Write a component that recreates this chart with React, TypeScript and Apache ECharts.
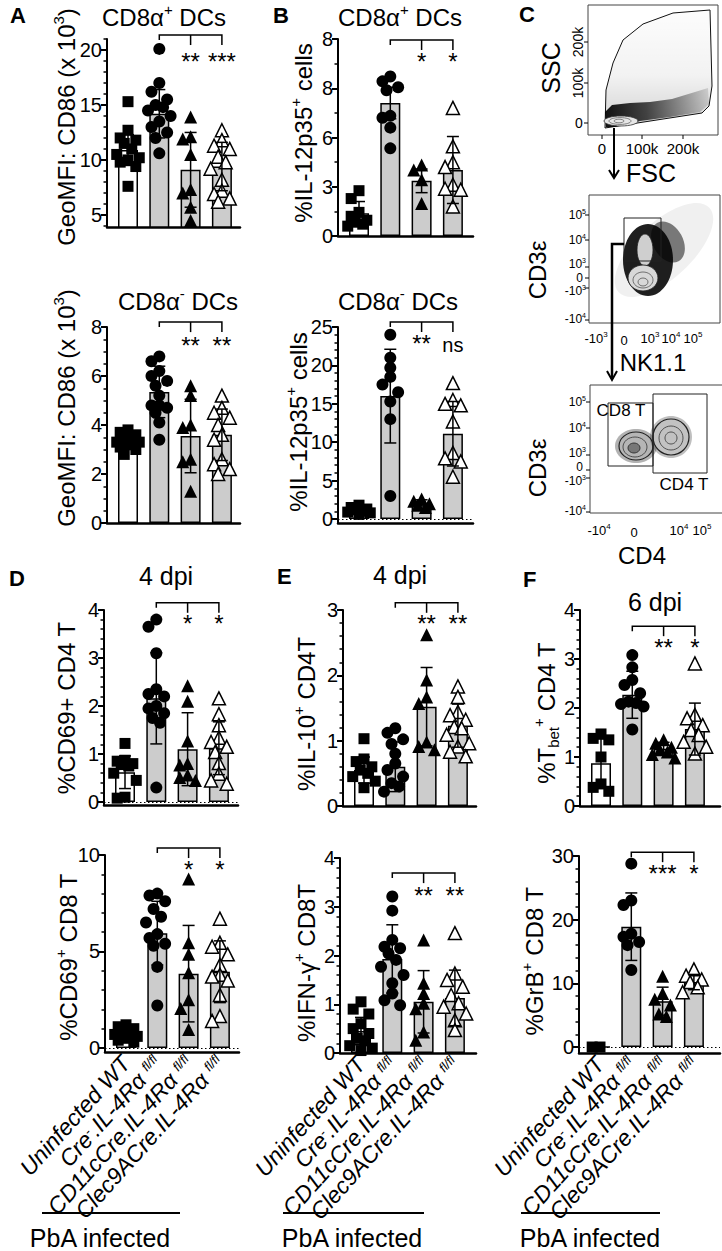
import React, { useEffect, useRef } from 'react';
import * as echarts from 'echarts';

const FONT = '"Liberation Sans", Arial, Helvetica, sans-serif';

// ---------- categories ----------
const groups = ['Uninfected WT', 'Cre-.IL-4Rα fl/fl', 'CD11cCre.IL-4Rα fl/fl', 'Clec9ACre.IL-4Rα fl/fl'];
const groupLabelsRich = [
  '{i|Uninfected WT}',
  '{i|Cre}{s|-}{i|.IL-4Rα }{s|fl/fl}',
  '{i|CD11cCre.IL-4Rα }{s|fl/fl}',
  '{i|Clec9ACre.IL-4Rα }{s|fl/fl}',
];

// ---------- A: GeoMFI CD86, CD8a+ DCs ----------
const aTopPoints = [
  [15.3, 12.7, 12.0, 11.8, 11.5, 11.0, 10.5, 10.2, 10.0, 9.8, 9.4, 7.6],
  [20.1, 17.0, 16.2, 15.5, 15.0, 14.8, 14.5, 14.0, 13.5, 13.0, 12.5, 12.0, 10.6],
  [13.9, 12.1, 11.9, 10.5, 7.3, 7.0, 5.7, 4.5],
  [12.7, 11.8, 11.3, 11.0, 10.3, 9.8, 9.2, 8.2, 7.2, 6.9, 6.5, 6.2],
];
const aTopMeans = [10.9, 14.2, 9.1, 9.4];
const aTopSD = [1.4, 2.2, 3.4, 2.2];
const aTopTicks = [5, 10, 15, 20];

// ---------- A: GeoMFI CD86, CD8a- DCs ----------
const aBotPoints = [
  [3.8, 3.7, 3.6, 3.5, 3.4, 3.3, 3.3, 3.2, 3.1, 3.0, 2.8],
  [6.8, 6.6, 6.2, 6.0, 5.8, 5.6, 5.2, 4.8, 4.8, 4.7, 4.5, 4.1, 3.4],
  [5.6, 5.2, 4.0, 3.9, 2.6, 2.5, 1.3],
  [5.2, 4.7, 4.5, 4.3, 4.0, 3.6, 3.4, 2.6, 2.4, 2.2, 2.0],
];
const aBotMeans = [3.3, 5.35, 3.55, 3.6];
const aBotSD = [0.3, 1.05, 1.5, 1.05];
const aBotTicks = [0, 2, 4, 6, 8];

// ---------- B: %IL-12p35+, CD8a+ DCs ----------
const bTopPoints = [
  [2.3, 1.9, 1.2, 1.0, 0.8, 0.7, 0.6, 0.5],
  [8.1, 7.85, 7.55, 7.4, 6.1, 6.0, 5.5, 4.45],
  [3.6, 3.35, 2.85, 1.65],
  [6.5, 4.55, 3.75, 3.5, 2.6, 2.4, 2.35, 1.5],
];
const bTopMeans = [1.15, 6.75, 2.8, 3.35];
const bTopSD = [0.6, 0.8, 0.6, 1.7];
const bTopTicks = [0, 2.5, 5, 7.5, 10];
const bTopTickLabels = ['0', '3', '6', '8', '8'];

// ---------- B: %IL-12p35+, CD8a- DCs ----------
const bBotPoints = [
  [1.8, 1.5, 1.3, 1.2, 1.0, 0.9, 0.8, 0.6],
  [24, 21, 19.7, 18.5, 17.5, 16.5, 15.3, 13, 3],
  [2.6, 2.3, 2.0, 1.8, 1.5],
  [17.7, 15.5, 15.0, 14.8, 12.7, 8.6, 7.9, 7.5, 5.5],
];
const bBotMeans = [1.1, 16.0, 2.1, 11.1];
const bBotSD = [0.4, 6.1, 0.4, 4.2];
const bBotTicks = [0, 5, 10, 15, 20, 25];

// ---------- D: %CD69+ CD4 T ----------
const dTopPoints = [
  [1.22, 0.87, 0.85, 0.8, 0.78, 0.75, 0.6, 0.45, 0.1, 0.08],
  [3.8, 3.65, 3.1, 2.35, 2.25, 2.2, 2.0, 1.95, 1.85, 1.75, 1.65, 0.3],
  [2.42, 2.1, 1.27, 0.8, 0.77, 0.56, 0.51, 0.45],
  [2.16, 1.83, 1.6, 1.34, 1.25, 1.15, 1.04, 0.81, 0.59, 0.45, 0.38],
];
const dTopMeans = [0.62, 2.16, 1.1, 1.12];
const dTopSD = [0.34, 0.95, 0.76, 0.55];
const dTopTicks = [0, 1, 2, 3, 4];

// ---------- D: %CD69+ CD8 T ----------
const dBotPoints = [
  [1.2, 1.1, 1.0, 0.9, 0.8, 0.7, 0.6, 0.5, 0.4, 0.3],
  [8.0, 7.9, 7.6, 7.2, 6.8, 6.5, 5.9, 5.7, 5.4, 5.3, 4.2, 2.2],
  [8.75, 5.45, 4.85, 3.9, 2.5, 2.05, 0.95],
  [6.7, 5.45, 5.25, 4.85, 4.3, 3.8, 3.7, 3.5, 2.75, 1.65, 1.4],
];
const dBotMeans = [0.65, 5.95, 3.85, 3.95];
const dBotSD = [0.3, 1.65, 2.5, 1.6];
const dBotTicks = [0, 5, 10];

// ---------- E: %IL-10+ CD4T ----------
const eTopPoints = [
  [1.03, 0.72, 0.68, 0.6, 0.55, 0.5, 0.45, 0.38, 0.28],
  [1.19, 1.12, 1.02, 0.95, 0.8, 0.65, 0.55, 0.45, 0.35, 0.3, 0.22],
  [2.62, 1.93, 1.67, 1.57, 0.98, 0.91, 0.86],
  [1.83, 1.67, 1.44, 1.39, 1.32, 1.21, 1.19, 1.09, 0.96, 0.91, 0.83, 0.76],
];
const eTopMeans = [0.55, 0.6, 1.52, 1.23];
const eTopSD = [0.2, 0.38, 0.6, 0.33];
const eTopTicks = [0, 1, 2, 3];

// ---------- E: %IFN-g+ CD8T ----------
const eBotPoints = [
  [1.05, 0.9, 0.8, 0.6, 0.5, 0.4, 0.3, 0.25, 0.15, 0.1, 0.05],
  [3.21, 2.92, 2.32, 2.18, 2.15, 2.04, 1.91, 1.77, 1.6, 1.43, 1.22, 1.08, 0.98],
  [2.32, 1.43, 1.22, 1.02, 0.91, 0.43, 0.26],
  [2.46, 1.63, 1.5, 1.36, 1.19, 1.02, 0.95, 0.81, 0.67, 0.47],
];
const eBotMeans = [0.45, 1.93, 1.05, 1.13];
const eBotSD = [0.28, 0.7, 0.64, 0.57];
const eBotTicks = [0, 1, 2, 3, 4];

// ---------- F: %Tbet+ CD4 T ----------
const fTopPoints = [
  [1.47, 1.38, 1.35, 1.0, 0.45, 0.38, 0.3],
  [3.08, 2.83, 2.57, 2.47, 2.3, 2.13, 2.1, 2.08, 2.03, 1.56],
  [1.35, 1.28, 1.2, 1.15, 1.1, 1.05, 0.98],
  [2.91, 1.86, 1.79, 1.65, 1.55, 1.45, 1.31, 1.21, 1.07],
];
const fTopMeans = [0.87, 2.27, 1.17, 1.57];
const fTopSD = [0.5, 0.48, 0.13, 0.53];
const fTopTicks = [0, 1, 2, 3, 4];

// ---------- F: %GrB+ CD8 T ----------
const fBotPoints = [
  [0, 0],
  [28.8, 23.0, 22.3, 17.8, 17.3, 16.5, 16.0, 12.1],
  [11.1, 8.4, 7.5, 6.6, 5.2, 4.8],
  [12.2, 11.2, 10.6, 10.2, 9.4, 8.6],
];
const fBotMeans = [0, 18.9, 7.2, 10.2];
const fBotSD = [0, 5.3, 2.2, 1.2];
const fBotTicks = [0, 10, 20, 30];

// ---------- layout of panels ----------
const panels: any[] = [
  { left: 107, top: 39, bottom: 227, width: 133, min: 3.9, max: 21, ticks: aTopTicks, minorStep: 1, points: aTopPoints, means: aTopMeans, sds: aTopSD, bracket: 21.36, stars: ['**', '***'], starGap: 14 },
  { left: 107, top: 327, bottom: 523, width: 133, min: 0, max: 8, ticks: aBotTicks, minorStep: 0.5, points: aBotPoints, means: aBotMeans, sds: aBotSD, bracket: 8.2, stars: ['**', '**'], starGap: 11 },
  { left: 338, top: 39, bottom: 236, width: 135, min: 0, max: 10, ticks: bTopTicks, tickLabels: bTopTickLabels, minorStep: 1.25, points: bTopPoints, means: bTopMeans, sds: bTopSD, bracket: 9.95, stars: ['*', '*'], starGap: 10 },
  { left: 338, top: 327, bottom: 523, width: 135, min: -0.52, max: 25, ticks: bBotTicks, minorStep: 1, points: bBotPoints, means: bBotMeans, sds: bBotSD, bracket: 25.65, stars: ['**', 'ns'], starGap: 9, zeroLine: true },
  { left: 104, top: 610, bottom: 805, width: 134, min: -0.0625, max: 4, ticks: dTopTicks, minorStep: 0.2, points: dTopPoints, means: dTopMeans, sds: dTopSD, bracket: 4.15, stars: ['*', '*'], starGap: 9, zeroLine: true },
  { left: 105, top: 855, bottom: 1052, width: 134, min: -0.21, max: 10, ticks: dBotTicks, minorStep: 1, points: dBotPoints, means: dBotMeans, sds: dBotSD, bracket: 10.36, stars: ['*', '*'], starGap: 9, zeroLine: true, xLabels: true },
  { left: 343, top: 610, bottom: 806, width: 133, min: 0, max: 3, ticks: eTopTicks, minorStep: 0.2, points: eTopPoints, means: eTopMeans, sds: eTopSD, bracket: 3.11, stars: ['**', '**'], starGap: 9 },
  { left: 340, top: 858, bottom: 1053, width: 136, min: 0, max: 4, ticks: eBotTicks, minorStep: 0.2, points: eBotPoints, means: eBotMeans, sds: eBotSD, bracket: 3.69, stars: ['**', '**'], starGap: 10, xLabels: true },
  { left: 580, top: 610, bottom: 806, width: 140, min: 0, max: 4, ticks: fTopTicks, minorStep: 0.2, points: fTopPoints, means: fTopMeans, sds: fTopSD, bracket: 3.67, stars: ['**', '*'], starGap: 9 },
  { left: 579, top: 856, bottom: 1053, width: 141, min: -0.94, max: 30, ticks: fBotTicks, minorStep: 2, points: fBotPoints, means: fBotMeans, sds: fBotSD, bracket: 30.6, stars: ['***', '*'], starGap: 9, zeroLine: true, xLabels: true },
];

const CAT_PX = 31.3;
const FIRST_PX = 21;
const symbols = [
  { symbol: 'rect', size: 11, color: '#000', border: '#000' },
  { symbol: 'circle', size: 12, color: '#000', border: '#000' },
  { symbol: 'triangle', size: 13, color: '#000', border: '#000' },
  { symbol: 'triangle', size: 13, color: '#fff', border: '#000' },
];

function swarm(vals: number[], pxPerUnit: number) {
  const sorted = [...vals].sort((a, b) => b - a);
  const pattern = [0, -0.25, 0.25, -0.12, 0.12, -0.36, 0.36];
  let k = 0;
  let prev = Infinity;
  return sorted.map((v) => {
    if ((prev - v) * pxPerUnit > 9) k = 0;
    else k++;
    prev = v;
    return [pattern[k % pattern.length], v];
  });
}

function minorTicks(min: number, max: number, step: number, majors: number[]) {
  const out: number[] = [];
  const start = Math.ceil(min / step - 1e-9);
  for (let i = start; i * step <= max + 1e-9; i++) {
    const v = +(i * step).toFixed(6);
    if (!majors.some((m) => Math.abs(m - v) < 1e-6)) out.push(v);
  }
  return out;
}

const supRich = (size: number) => ({
  a: { fontSize: size, fontFamily: FONT, fill: '#000', color: '#000', lineHeight: Math.round(size * 1.25) },
  s: { fontSize: Math.round(size * 0.62), fontFamily: FONT, fill: '#000', color: '#000', verticalAlign: 'top', lineHeight: Math.round(size * 0.7) },
  b: { fontSize: Math.round(size * 0.62), fontFamily: FONT, fill: '#000', color: '#000', verticalAlign: 'bottom', lineHeight: Math.round(size * 0.7) },
});

function txt(x: number, y: number, text: string, size: number, o: any = {}) {
  return {
    type: 'text', x, y, rotation: o.rot || 0, silent: true, z: 10,
    style: {
      text, fill: '#000', fontSize: size, fontFamily: FONT,
      fontWeight: o.bold ? 'bold' : 'normal', fontStyle: o.italic ? 'italic' : 'normal',
      align: o.align || 'center', verticalAlign: o.valign || 'middle',
      rich: o.rich ? supRich(size) : undefined,
    },
  };
}
function ln(x1: number, y1: number, x2: number, y2: number, w = 1, color = '#000') {
  return { type: 'line', silent: true, z: 10, shape: { x1, y1, x2, y2 }, style: { stroke: color, lineWidth: w } };
}
function pl(points: number[][], w = 1, color = '#000', fill: any = 'none') {
  return { type: 'polyline', silent: true, z: 10, shape: { points }, style: { stroke: color, lineWidth: w, fill } };
}
function ell(cx: number, cy: number, rx: number, ry: number, fill: any, stroke: any = 'none', w = 1, rot = 0) {
  return { type: 'ellipse', silent: true, z: 9, x: cx, y: cy, rotation: rot, shape: { cx: 0, cy: 0, rx, ry }, style: { fill, stroke, lineWidth: w } };
}
function rc(x: number, y: number, w: number, h: number, stroke = '#222', lw = 1) {
  return { type: 'rect', silent: true, z: 10, shape: { x, y, width: w, height: h }, style: { fill: 'none', stroke, lineWidth: lw } };
}

function flowPanel() {
  const els: any[] = [];
  // ---- top: SSC vs FSC
  els.push({
    type: 'polygon', silent: true, z: 8,
    shape: { points: [[605, 128], [606, 90], [613, 63], [623, 40], [643, 24], [673, 13], [710, 10], [712, 86], [709, 106], [702, 113]] },
    style: {
      fill: new echarts.graphic.LinearGradient(0, 0, 0, 1, [
        { offset: 0, color: 'rgba(0,0,0,0.01)' }, { offset: 0.55, color: 'rgba(0,0,0,0.05)' }, { offset: 1, color: 'rgba(0,0,0,0.18)' },
      ]),
      stroke: '#111', lineWidth: 1,
    },
  });
  els.push({
    type: 'polygon', silent: true, z: 9,
    shape: { points: [[606, 127], [605, 112], [612, 105], [630, 103], [650, 102], [672, 99], [695, 92], [708, 88], [709, 104], [700, 112], [670, 117], [640, 121], [615, 127]] },
    style: {
      fill: new echarts.graphic.LinearGradient(0, 0, 1, 0, [
        { offset: 0, color: 'rgba(0,0,0,0.92)' }, { offset: 0.4, color: 'rgba(0,0,0,0.7)' }, { offset: 1, color: 'rgba(0,0,0,0.12)' },
      ]),
    },
  });
  els.push(ell(621, 121, 17, 5, '#e6e6e6', '#333', 0.8));
  els.push(ell(620, 121, 11, 3.4, 'none', '#555', 0.7));
  els.push(ell(619, 121, 5, 1.8, 'none', '#555', 0.7));
  els.push(rc(588, 5, 130, 130, '#444', 1));
  [123, 83, 42].forEach((y) => els.push(ln(584, y, 588, y, 1)));
  [602, 642, 683].forEach((x) => els.push(ln(x, 135, x, 139, 1)));
  els.push(txt(579, 123, '0', 14));
  els.push(txt(578, 83, '100k', 14, { rot: Math.PI / 2 }));
  els.push(txt(578, 42, '200k', 14, { rot: Math.PI / 2 }));
  els.push(txt(602, 148, '0', 15));
  els.push(txt(642, 148, '100k', 15));
  els.push(txt(683, 148, '200k', 15));
  els.push(txt(551, 68, 'SSC', 25, { rot: Math.PI / 2 }));
  els.push(txt(651, 173, 'FSC', 25));
  els.push(ln(614, 128, 614, 177, 2));
  els.push(pl([[609, 170], [614, 178], [619, 170]], 2));

  // ---- middle: CD3e vs NK1.1
  els.push(ell(664, 250, 62, 28, 'rgba(0,0,0,0.06)', 'none', 1, 0.75));
  els.push(ell(648, 260, 25, 36, 'rgba(0,0,0,0.88)'));
  els.push(ell(668, 242, 15, 22, 'rgba(0,0,0,0.5)', 'none', 1, 0.5));
  els.push(ell(645, 250, 8, 16, '#cfcfcf', '#222', 0.8));
  els.push(ell(643, 278, 15, 13, '#d8d8d8', '#222', 0.9));
  els.push(ell(643, 280, 10, 8, 'none', '#444', 0.7));
  els.push(ell(643, 282, 5, 4, 'none', '#444', 0.7));
  els.push(rc(589, 195, 131, 128, '#444', 1));
  els.push(rc(624, 218, 37, 43, '#222', 1));
  [215, 240, 267, 278, 288, 320].forEach((y) => els.push(ln(585, y, 589, y, 1)));
  els.push(txt(586, 215, '{a|10}{s|5}', 12, { align: 'right', rich: true }));
  els.push(txt(586, 240, '{a|10}{s|4}', 12, { align: 'right', rich: true }));
  els.push(txt(586, 264, '{a|10}{s|3}', 12, { align: 'right', rich: true }));
  els.push(txt(583, 278, '0', 12, { align: 'right' }));
  els.push(txt(586, 291, '{a|-10}{s|3}', 12, { align: 'right', rich: true }));
  els.push(txt(586, 319, '{a|-10}{s|4}', 12, { align: 'right', rich: true }));
  els.push(txt(596, 338, '{a|-10}{s|3}', 13, { rich: true }));
  els.push(txt(624, 340, '0', 13));
  els.push(txt(650, 338, '{a|10}{s|3}', 13, { rich: true }));
  els.push(txt(671, 338, '{a|10}{s|4}', 13, { rich: true }));
  els.push(txt(693, 338, '{a|10}{s|5}', 13, { rich: true }));
  els.push(txt(537, 270, 'CD3ε', 24, { rot: Math.PI / 2 }));
  els.push(txt(653, 362, 'NK1.1', 24));
  els.push(pl([[624, 244], [612, 244], [612, 379]], 2.5));
  els.push(pl([[607, 371], [612, 380], [617, 371]], 2));

  // ---- bottom: CD3e vs CD4
  els.push(ell(636, 446, 21, 17, 'rgba(0,0,0,0.3)'));
  els.push(ell(636, 446, 17, 14, '#b5b5b5', '#222', 1.2));
  els.push(ell(635, 447, 12, 10, 'none', '#333', 0.8));
  els.push(ell(634, 448, 6, 5, '#777', '#222', 0.8));
  els.push(ell(671, 437, 21, 21, 'rgba(0,0,0,0.25)'));
  els.push(ell(671, 437, 18, 18, '#c2c2c2', '#222', 1.2));
  els.push(ell(671, 438, 12, 12, 'none', '#333', 0.8));
  els.push(ell(671, 438, 6, 6, 'none', '#333', 0.8));
  els.push(pl([[722, 385], [590, 385], [590, 513], [722, 513]], 1, '#444'));
  els.push(rc(608, 403, 45, 63, '#222', 1));
  els.push(rc(653, 394, 54, 79, '#222', 1));
  [402, 428, 455, 470, 478, 512].forEach((y) => els.push(ln(586, y, 590, y, 1)));
  els.push(txt(586, 402, '{a|10}{s|5}', 12, { align: 'right', rich: true }));
  els.push(txt(586, 428, '{a|10}{s|4}', 12, { align: 'right', rich: true }));
  els.push(txt(586, 453, '{a|10}{s|3}', 12, { align: 'right', rich: true }));
  els.push(txt(583, 467, '0', 12, { align: 'right' }));
  els.push(txt(586, 481, '{a|-10}{s|3}', 12, { align: 'right', rich: true }));
  els.push(txt(586, 511, '{a|-10}{s|4}', 12, { align: 'right', rich: true }));
  els.push(txt(599, 530, '{a|-10}{s|4}', 13, { rich: true }));
  els.push(txt(634, 532, '0', 13));
  els.push(txt(679, 530, '{a|10}{s|4}', 13, { rich: true }));
  els.push(txt(702, 530, '{a|10}{s|5}', 13, { rich: true }));
  els.push(txt(621, 410, 'CD8 T', 17));
  els.push(txt(684, 484, 'CD4 T', 17));
  els.push(txt(537, 468, 'CD3ε', 24, { rot: Math.PI / 2 }));
  els.push(txt(642, 555, 'CD4', 24));
  return els;
}

function buildOption() {
  const grid: any[] = [];
  const xAxis: any[] = [];
  const yAxis: any[] = [];
  const series: any[] = [];

  panels.forEach((p, idx) => {
    const h = p.bottom - p.top;
    const pxPerUnit = h / (p.max - p.min);
    const xmin = -FIRST_PX / CAT_PX;
    const xmax = xmin + p.width / CAT_PX;
    grid.push({ left: p.left, top: p.top, width: p.width, height: h });
    xAxis.push({
      type: 'value', gridIndex: idx, min: xmin, max: xmax,
      axisLine: { show: true, onZero: false, lineStyle: { color: '#000', width: 2.5 } },
      axisTick: { show: false }, splitLine: { show: false },
      axisLabel: p.xLabels
        ? {
            show: true, customValues: [0, 1, 2, 3], rotate: 48, margin: 7,
            showMinLabel: true, showMaxLabel: true, hideOverlap: false,
            formatter: (v: number) => groupLabelsRich[Math.round(v)],
            rich: {
              i: { fontSize: 23, fontStyle: 'italic', fontFamily: FONT, color: '#000', lineHeight: 20 },
              s: { fontSize: 13, fontStyle: 'italic', fontFamily: FONT, color: '#000', verticalAlign: 'top', lineHeight: 8 },
            },
          }
        : { show: false },
    });
    const labels = p.tickLabels;
    yAxis.push({
      type: 'value', gridIndex: idx, min: p.min, max: p.max, position: 'left',
      axisLine: { show: true, onZero: false, lineStyle: { color: '#000', width: 2 } },
      axisTick: { show: true, customValues: p.ticks, length: 6, lineStyle: { color: '#000', width: 2 } },
      axisLabel: {
        show: true, customValues: p.ticks, margin: 5, color: '#000', fontSize: 20, fontFamily: FONT,
        showMinLabel: true, showMaxLabel: true,
        formatter: (v: number) => {
          if (labels) {
            const i = p.ticks.findIndex((t: number) => Math.abs(t - v) < 1e-6);
            return i >= 0 ? labels[i] : '';
          }
          return String(+v.toFixed(4));
        },
      },
      splitLine: { show: false },
    });
    yAxis.push({
      type: 'value', gridIndex: idx, min: p.min, max: p.max, position: 'left',
      axisLine: { show: false, onZero: false },
      axisTick: { show: true, customValues: minorTicks(p.min, p.max, p.minorStep, p.ticks), length: 3.5, lineStyle: { color: '#000', width: 1.5 } },
      axisLabel: { show: false }, splitLine: { show: false },
    });

    const yi = idx * 2;
    series.push({
      type: 'bar', xAxisIndex: idx, yAxisIndex: yi, barWidth: 20, z: 2, silent: true,
      data: p.means.map((m: number, i: number) => ({ value: [i, m], itemStyle: { color: i === 0 ? '#ffffff' : '#cccccc' } })),
      itemStyle: { borderColor: '#000', borderWidth: 1.5 },
      markLine: p.zeroLine
        ? { silent: true, symbol: 'none', label: { show: false }, lineStyle: { type: [1.5, 2.5], color: '#000', width: 1 }, data: [{ yAxis: 0 }] }
        : undefined,
    });
    p.points.forEach((vals: number[], g: number) => {
      const s = symbols[g];
      series.push({
        type: 'scatter', xAxisIndex: idx, yAxisIndex: yi, z: 3, silent: true,
        symbol: s.symbol, symbolSize: s.size,
        itemStyle: { color: s.color, borderColor: s.border, borderWidth: g === 3 ? 1.5 : 0, opacity: 1 },
        data: swarm(vals, pxPerUnit).map(([dx, v]) => [g + dx, v]),
      });
    });
    series.push({
      type: 'custom', xAxisIndex: idx, yAxisIndex: yi, z: 4, silent: true, clip: false,
      data: p.means.map((m: number, i: number) => [i, m, p.sds[i]]),
      renderItem: (params: any, api: any) => {
        const x = api.value(0);
        const m = api.value(1);
        const s = api.value(2);
        if (!s) return null;
        const t = api.coord([x, m + s]);
        const b = api.coord([x, m - s]);
        const st = { stroke: '#000', lineWidth: 1.5 };
        return {
          type: 'group',
          children: [
            { type: 'line', shape: { x1: t[0], y1: t[1], x2: b[0], y2: b[1] }, style: st },
            { type: 'line', shape: { x1: t[0] - 6, y1: t[1], x2: t[0] + 6, y2: t[1] }, style: st },
            { type: 'line', shape: { x1: b[0] - 6, y1: b[1], x2: b[0] + 6, y2: b[1] }, style: st },
          ],
        };
      },
    });
    series.push({
      type: 'custom', xAxisIndex: idx, yAxisIndex: yi, z: 5, silent: true, clip: false,
      data: [[1, 3, p.bracket]],
      renderItem: (params: any, api: any) => {
        const lvl = api.value(2);
        const a = api.coord([1, lvl]);
        const b = api.coord([2, lvl]);
        const c = api.coord([3, lvl]);
        const st = { stroke: '#000', lineWidth: 1.5, fill: 'none' };
        const ts = (x: number, y: number, text: string) => ({
          type: 'text', x, y,
          style: { text, fill: '#000', fontSize: text === 'ns' ? 20 : 24, fontFamily: FONT, align: 'center', verticalAlign: 'top' },
        });
        return {
          type: 'group',
          children: [
            { type: 'polyline', shape: { points: [[a[0], a[1] + 5], [a[0], a[1]], [c[0], c[1]], [c[0], c[1] + 10]] }, style: st },
            { type: 'line', shape: { x1: b[0], y1: b[1], x2: b[0], y2: b[1] + 10 }, style: st },
            ts(b[0], b[1] + p.starGap, p.stars[0]),
            ts(c[0], c[1] + p.starGap + (p.stars[1] === 'ns' ? 4 : 0), p.stars[1]),
          ],
        };
      },
    });
  });

  const R = { rich: true };
  const graphic: any[] = [
    txt(10, 15, 'A', 22, { bold: true, align: 'left' }),
    txt(273, 15, 'B', 22, { bold: true, align: 'left' }),
    txt(519, 14, 'C', 22, { bold: true, align: 'left' }),
    txt(9, 578, 'D', 22, { bold: true, align: 'left' }),
    txt(277, 576, 'E', 22, { bold: true, align: 'left' }),
    txt(523, 579, 'F', 22, { bold: true, align: 'left' }),
    txt(164, 17, '{a|CD8α}{s|+}{a| DCs}', 24, R),
    txt(178, 301, '{a|CD8α}{s|-}{a| DCs}', 24, R),
    txt(400, 17, '{a|CD8α}{s|+}{a| DCs}', 24, R),
    txt(398, 301, '{a|CD8α}{s|-}{a| DCs}', 24, R),
    txt(166, 576, '4 dpi', 25),
    txt(400, 575, '4 dpi', 25),
    txt(655, 602, '6 dpi', 25),
    txt(66, 127, '{a|GeoMFI: CD86 (x 10}{s|3}{a|)}', 24, { rot: Math.PI / 2, rich: true }),
    txt(66, 408, '{a|GeoMFI: CD86 (x 10}{s|3}{a|)}', 24, { rot: Math.PI / 2, rich: true }),
    txt(303, 133, '{a|%IL-12p35}{s|+}{a| cells}', 24, { rot: Math.PI / 2, rich: true }),
    txt(298, 422, '{a|%IL-12p35}{s|+}{a| cells}', 24, { rot: Math.PI / 2, rich: true }),
    txt(66, 708, '%CD69+ CD4 T', 24, { rot: Math.PI / 2 }),
    txt(68, 957, '{a|%CD69}{s|+}{a| CD8 T}', 24, { rot: Math.PI / 2, rich: true }),
    txt(306, 714, '{a|%IL-10}{s|+}{a| CD4T}', 24, { rot: Math.PI / 2, rich: true }),
    txt(306, 963, '{a|%IFN-γ}{s|+}{a| CD8T}', 24, { rot: Math.PI / 2, rich: true }),
    txt(546, 713, '{a|%T}{b|bet}{s|+}{a| CD4 T}', 24, { rot: Math.PI / 2, rich: true }),
    txt(534, 961, '{a|%GrB}{s|+}{a| CD8 T}', 24, { rot: Math.PI / 2, rich: true }),
    ln(42, 1213, 180, 1213, 2),
    ln(283, 1213, 424, 1213, 2),
    ln(521, 1213, 660, 1213, 2),
    txt(100, 1238, 'PbA infected', 25),
    txt(352, 1238, 'PbA infected', 25),
    txt(590, 1238, 'PbA infected', 25),
    ...flowPanel(),
  ];

  return {
    animation: false,
    backgroundColor: '#ffffff',
    textStyle: { fontFamily: FONT },
    grid, xAxis, yAxis, series, graphic,
  };
}

export default function App() {
  const ref = useRef<HTMLDivElement>(null);
  useEffect(() => {
    if (!ref.current) return;
    const chart = echarts.init(ref.current, undefined, { renderer: 'svg' });
    chart.setOption(buildOption() as any);
    return () => chart.dispose();
  }, []);
  return <div ref={ref} style={{ position: 'fixed', left: 0, top: 0, width: 722, height: 1251, background: '#fff' }} />;
}
